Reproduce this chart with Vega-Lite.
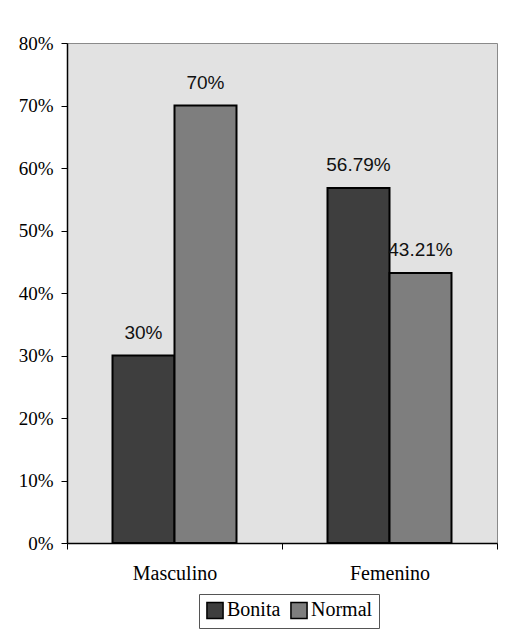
{
  "$schema": "https://vega.github.io/schema/vega-lite/v6.json",
  "autosize": {"type": "none"},
  "width": 430,
  "height": 500,
  "padding": {"left": 67, "top": 43, "right": 12, "bottom": 98},
  "background": "white",
  "config": {
    "view": {"fill": "#e2e2e2", "stroke": "#8a8a8a", "strokeWidth": 1},
    "axis": {"grid": false, "domainColor": "black", "tickColor": "black", "labelColor": "black", "domainWidth": 1.5}
  },
  "data": {
    "values": [
      {"sexo": "Masculino", "tipo": "Bonita", "valor": 0.30},
      {"sexo": "Masculino", "tipo": "Normal", "valor": 0.70},
      {"sexo": "Femenino", "tipo": "Bonita", "valor": 0.5679},
      {"sexo": "Femenino", "tipo": "Normal", "valor": 0.4321}
    ]
  },
  "encoding": {
    "x": {
      "field": "sexo", "type": "nominal", "sort": ["Masculino", "Femenino"],
      "scale": {"paddingInner": 0, "paddingOuter": 0},
      "axis": {"title": null, "labelAngle": 0, "labelFont": "Liberation Serif", "labelFontSize": 20, "labelPadding": 14, "tickBand": "extent", "tickSize": 6, "ticks": true}
    },
    "xOffset": {"field": "tipo", "type": "nominal", "scale": {"paddingInner": 0, "paddingOuter": 0.734}},
    "y": {
      "field": "valor", "type": "quantitative",
      "scale": {"domain": [0, 0.8]},
      "axis": {"title": null, "format": ".0%", "values": [0, 0.1, 0.2, 0.3, 0.4, 0.5, 0.6, 0.7, 0.8], "labelOverlap": false, "labelFont": "Liberation Serif", "labelFontSize": 19, "labelPadding": 8, "tickSize": 6}
    }
  },
  "layer": [
    {
      "mark": {"type": "bar", "stroke": "black", "strokeWidth": 2},
      "encoding": {
        "color": {
          "field": "tipo", "type": "nominal",
          "scale": {"domain": ["Bonita", "Normal"], "range": ["#3e3e3e", "#7e7e7e"]},
          "legend": {
            "title": null, "orient": "none", "legendX": 132, "legendY": 551,
            "direction": "horizontal", "columns": 2,
            "symbolType": "square", "symbolSize": 260, "symbolStrokeColor": "black", "symbolStrokeWidth": 1.5,
            "labelFont": "Liberation Serif", "labelFontSize": 20, "labelColor": "black", "labelOffset": 2,
            "columnPadding": 6, "padding": 6, "strokeColor": "#555555", "fillColor": "white"
          }
        }
      }
    },
    {
      "mark": {"type": "text", "baseline": "bottom", "dy": -13, "font": "Liberation Sans", "fontSize": 19, "fontWeight": 500, "color": "#111111"},
      "encoding": {
        "text": {"field": "valor", "type": "quantitative", "format": ".2~%"}
      }
    }
  ]
}
